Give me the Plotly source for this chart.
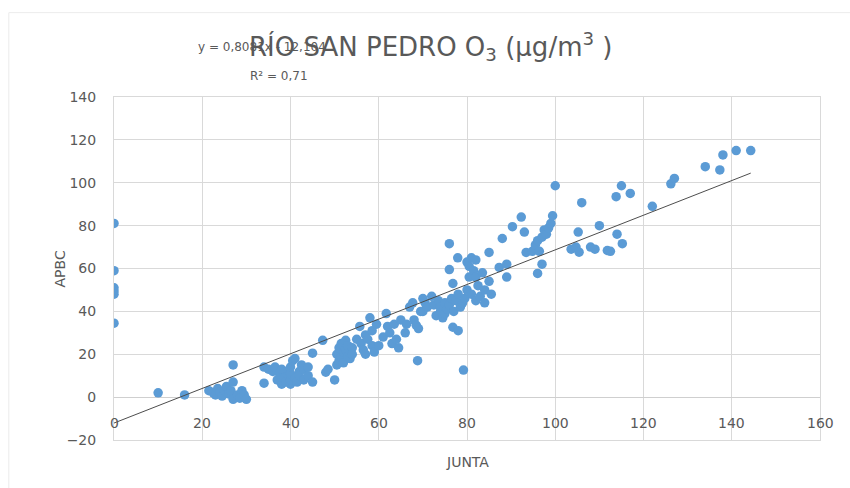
import plotly.graph_objects as go

# ---- data ----
JUNTA = [
    0, 0, 0, 0, 0, 0,
    10, 16, 21.5, 22.5, 23, 23.5, 24, 24.5, 25, 25.5, 26, 26.5, 27, 27, 27, 28, 28.5, 29, 29.5, 30,
    34, 34, 35, 36, 36.5, 37, 37.5, 38, 38, 38.5, 39, 39, 39.5, 40, 40, 40, 40, 40.5, 41, 41, 41.5,
    42, 42, 42.5, 43, 43, 44, 44, 45, 45,
    47.3, 48, 48.5, 50, 50.5, 50.5, 51, 51, 51.5, 51.5, 52, 52, 52.5, 52.5, 53, 53, 53.5, 54, 54, 55,
    55.7, 56, 56.5, 57, 57, 57.5, 58, 58.5, 58.5, 59, 59.5, 60, 61, 61.7, 62, 62.5, 63, 63.5, 64, 64.5, 65,
    66, 66.3, 67, 67.7, 68, 68.5, 68.8, 69, 69.5, 70, 70, 70.5, 71, 72,
    72.5, 73, 73.5, 74, 74, 74.5, 75, 75, 75.5, 76, 76, 76, 76.5, 76.8, 76.8, 77, 77.5, 78, 77.9, 78,
    78.5, 79, 79.2, 79.5, 80, 80, 80.5, 80.5, 81, 81, 81.5, 82, 82, 82, 82.5, 83, 83.5, 84, 84, 85, 85, 85.5,
    87.3, 88, 89, 89, 90.3, 92.3, 93, 93.4, 94.8, 95.5, 96, 96, 96.4, 97, 97, 97.5, 98, 98.5, 99, 99.4, 100,
    103.6, 104.7, 105.2, 105.4, 106, 108, 109, 110, 111.8, 112.5, 113.8, 114, 115, 115.2, 117,
    122, 126.2, 127, 134, 137.3, 138, 141, 144.3,
]
APBC = [
    81, 59, 51, 49.5, 48, 34.5,
    2, 1, 3, 2, 1, 4, 2.5, 0.5, 3, 5, 1.5, 3, 15, 7, -1, 1, -0.5, 3, 1, -1,
    14, 6.5, 13, 12, 14, 8, 11, 6, 13, 9, 7, 12, 10, 6, 8, 11, 14, 17, 18, 9, 7,
    12, 10, 15, 8, 13, 10, 14, 20.5, 7,
    26.5, 11.6, 13, 8, 15, 20, 17, 23, 19, 25, 21, 16, 26.5, 22, 19, 24, 18, 23, 20, 27,
    33, 25, 22, 20, 29, 27, 37, 24, 31, 21, 34, 24, 28, 39, 33, 30, 25, 34, 27, 23, 36,
    30, 34, 42, 44, 36, 33.5, 17, 32, 40, 46, 40, 44, 42, 47,
    43, 38, 45, 40, 42, 37, 44, 39, 41, 71.6, 59.5, 43, 46, 53, 32.6, 40, 45, 31, 65, 48,
    42, 44, 12.6, 46, 63, 50, 61, 56, 65, 48, 59, 64, 45, 56, 52, 47, 58, 50, 44, 54, 67.5, 48,
    60.5, 74, 62, 56, 79.5, 84, 77, 67.5, 68, 71, 73, 57.7, 68, 74.6, 62, 78, 76, 79, 81, 84.6, 98.6,
    69, 70, 77, 67.6, 90.7, 70, 69, 80, 68.4, 68, 93.5, 76, 98.6, 71.6, 95,
    89, 99.5, 102, 107.5, 106, 113, 115, 115,
]

TREND_SLOPE = 0.808
TREND_INTERCEPT = -12.1
TREND_X = [0, max(JUNTA)]
TREND_Y = [TREND_SLOPE * v + TREND_INTERCEPT for v in TREND_X]

X_TICKS = [0, 20, 40, 60, 80, 100, 120, 140, 160]
Y_TICKS = [-20, 0, 20, 40, 60, 80, 100, 120, 140]

TITLE = "RÍO SAN PEDRO O<sub>3</sub> (µg/m<sup>3</sup> )"
EQUATION = "y = 0,8081x - 12,104"
R2_TEXT = "R² = 0,71"

FONT = "'DejaVu Sans', sans-serif"
GRAY = "#595959"
GRID = "#d9d9d9"

fig = go.Figure()
fig.add_trace(go.Scatter(
    x=JUNTA, y=APBC, mode="markers",
    marker=dict(color="#5b9bd5", size=9.5, line=dict(width=0)),
    showlegend=False, hoverinfo="skip",
))
fig.add_trace(go.Scatter(
    x=TREND_X, y=TREND_Y, mode="lines",
    line=dict(color="#4d4d4d", width=1),
    showlegend=False, hoverinfo="skip",
))

annotations = []
for v in X_TICKS:
    annotations.append(dict(
        x=v, y=0, xref="x", yref="y", text=str(v), showarrow=False,
        xanchor="center", yanchor="middle", yshift=-26,
        font=dict(family=FONT, size=14, color=GRAY),
    ))
annotations += [
    dict(x=0.449, y=1.146, xref="paper", yref="paper", text=TITLE, showarrow=False,
         xanchor="center", yanchor="middle", font=dict(family=FONT, size=26, color=GRAY)),
    dict(x=0.116, y=1.146, xref="paper", yref="paper", text=EQUATION, showarrow=False,
         xanchor="left", yanchor="middle", font=dict(family=FONT, size=12, color=GRAY)),
    dict(x=0.190, y=1.062, xref="paper", yref="paper", text=R2_TEXT, showarrow=False,
         xanchor="left", yanchor="middle", font=dict(family=FONT, size=12, color=GRAY)),
    dict(x=-0.0765, y=0.5, xref="paper", yref="paper", text="APBC", showarrow=False,
         textangle=-90, xanchor="center", yanchor="middle",
         font=dict(family=FONT, size=14, color=GRAY)),
    dict(x=0.5, y=-0.064, xref="paper", yref="paper", text="JUNTA", showarrow=False,
         xanchor="center", yanchor="middle", font=dict(family=FONT, size=14, color=GRAY)),
]

fig.update_layout(
    width=850, height=488,
    margin=dict(l=114, r=30, t=97, b=48),
    paper_bgcolor="white", plot_bgcolor="white",
    annotations=annotations,
    shapes=[dict(type="rect", xref="paper", yref="paper",
                 x0=-0.149, x1=1.1, y0=-0.2, y1=1.246,
                 line=dict(color="#ececec", width=1), layer="below")],
    xaxis=dict(range=[0, 160], tickvals=X_TICKS, showticklabels=False,
               showgrid=True, gridcolor=GRID, gridwidth=1,
               zeroline=False, showline=True, mirror=True, linecolor=GRID),
    yaxis=dict(range=[-20, 140], tickvals=Y_TICKS,
               showgrid=True, gridcolor=GRID, gridwidth=1,
               zeroline=True, zerolinecolor="#cfcfcf", zerolinewidth=1,
               showline=True, mirror=True, linecolor=GRID,
               ticks="outside", ticklen=14, tickcolor="rgba(0,0,0,0)",
               tickfont=dict(family=FONT, size=14, color=GRAY)),
)

fig.write_html(
    "out.html",
    config={"displayModeBar": False},
    post_script="document.body.style.margin='0';document.body.style.padding='0';",
)
